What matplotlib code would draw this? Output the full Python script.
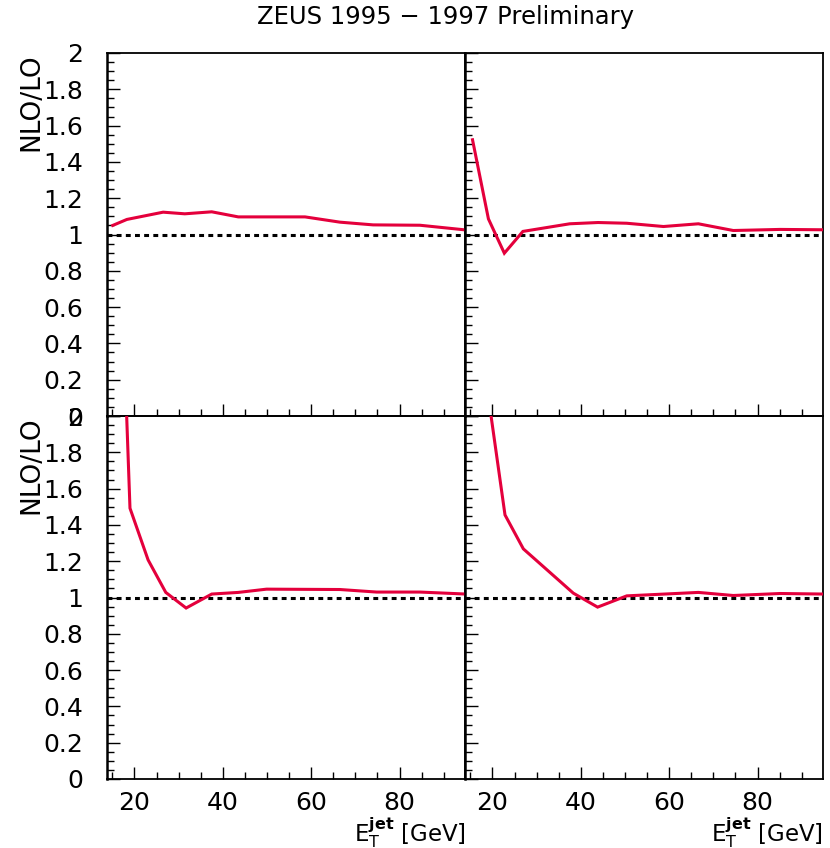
import matplotlib
matplotlib.use("Agg")
import matplotlib.pyplot as plt
from matplotlib.ticker import MultipleLocator, FixedLocator

# NLO/LO ratio versus jet transverse energy, four kinematic regions
et_tl = [15.1, 18.3, 26.5, 31.4, 37.5, 43.5, 58.6, 66.5, 74.0, 84.6, 95.0]
r_tl = [1.050, 1.083, 1.123, 1.114, 1.125, 1.097, 1.097, 1.068, 1.053, 1.051, 1.025]

et_tr = [15.5, 19.1, 22.7, 26.9, 37.5, 43.9, 50.4, 58.7, 66.6, 74.5, 85.1, 95.0]
r_tr = [1.522, 1.086, 0.897, 1.017, 1.059, 1.066, 1.062, 1.044, 1.059, 1.022, 1.028, 1.026]

et_bl = [15.0, 19.0, 23.1, 27.1, 31.7, 37.5, 43.5, 49.9, 66.5, 74.8, 84.6, 95.0]
r_bl = [4.2, 1.492, 1.207, 1.028, 0.942, 1.019, 1.028, 1.046, 1.044, 1.030, 1.030, 1.019]

et_br = [19.0, 22.85, 27.0, 38.3, 43.8, 50.4, 66.6, 74.5, 85.1, 95.0]
r_br = [2.12, 1.455, 1.268, 1.024, 0.947, 1.009, 1.028, 1.011, 1.022, 1.019]

x_ticks = [20, 40, 60, 80]
y_ticks = [0, 0.2, 0.4, 0.6, 0.8, 1, 1.2, 1.4, 1.6, 1.8, 2]
y_ticklabels = ["0", "0.2", "0.4", "0.6", "0.8", "1", "1.2", "1.4", "1.6", "1.8", "2"]

title = "ZEUS 1995 \u2212 1997 Preliminary"
ylabel = "NLO/LO"
xlabel = r"$\mathrm{E}_\mathrm{T}^{\mathbf{jet}}$ [GeV]"

W, H = 830, 848
fig = plt.figure(figsize=(W / 100, H / 100), dpi=100)
plt.rcParams["font.family"] = ["DejaVu Sans"]
plt.rcParams["mathtext.fontset"] = "dejavusans"

red = "#e4003c"
xlim = (13.8, 94.8)
ylim = (0, 2)

def px_rect(x0, y0, x1, y1):
    return [x0 / W, 1 - y1 / H, (x1 - x0) / W, (y1 - y0) / H]

panels = [
    (px_rect(107, 53, 465, 416), et_tl, r_tl, True, False),
    (px_rect(465, 53, 823, 416), et_tr, r_tr, False, False),
    (px_rect(107, 416, 465, 779), et_bl, r_bl, True, True),
    (px_rect(465, 416, 823, 779), et_br, r_br, False, True),
]

for rect, xs, ys, show_y, show_x in panels:
    ax = fig.add_axes(rect)
    ax.set_xlim(*xlim)
    ax.set_ylim(*ylim)
    ax.axhline(1.0, color="black", lw=2.2, linestyle=(0, (1.6, 1.4)), zorder=2)
    ax.plot(xs, ys, color=red, lw=2.2, zorder=3, solid_joinstyle="miter")

    ax.yaxis.set_major_locator(FixedLocator(y_ticks))
    ax.yaxis.set_minor_locator(MultipleLocator(0.05))
    ax.xaxis.set_major_locator(FixedLocator(x_ticks))
    ax.xaxis.set_minor_locator(MultipleLocator(5))
    ax.tick_params(axis="both", which="both", direction="in", top=False, right=False, width=1.0)
    ax.tick_params(axis="y", which="major", length=9.5, pad=17, labelsize=18)
    ax.tick_params(axis="y", which="minor", length=5)
    ax.tick_params(axis="x", which="major", length=9, pad=9, labelsize=18)
    ax.tick_params(axis="x", which="minor", length=5)

    if show_y:
        ax.set_yticklabels(y_ticklabels)
    else:
        ax.set_yticklabels([])
    if not show_x:
        ax.set_xticklabels([])

    for s in ax.spines.values():
        s.set_linewidth(1.3)
    ax.spines["left"].set_linewidth(1.8)
    ax.patch.set_alpha(0)

fig.text(446 / W, 1 - 17 / H, title, ha="center", va="center", fontsize=17.5)

for ytop in (53, 416):
    fig.text(31 / W, 1 - ytop / H, ylabel, rotation=90, ha="center", va="top", fontsize=19)

for xr in (466, 823):
    fig.text(xr / W, 1 - 841 / H, xlabel, ha="right", va="baseline", fontsize=16.5)

fig.savefig("out.png", dpi=100)
